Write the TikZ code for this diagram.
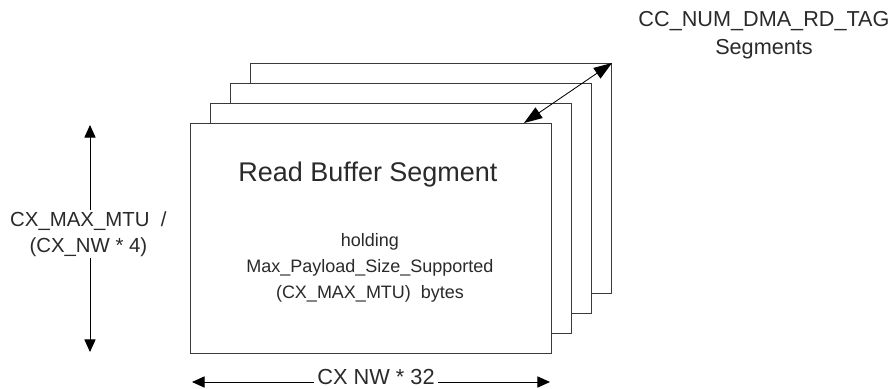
\documentclass[tikz,border=0pt]{standalone}
\usepackage{fontspec}
\setmainfont{Liberation Sans}
\usetikzlibrary{arrows.meta,positioning,calc}
\definecolor{edgegray}{HTML}{3A3A3A}
\definecolor{labeltext}{HTML}{2A2A2A}

\tikzset{
  segbox/.style={draw=edgegray, line width=0.7pt, fill=white, minimum width=9.025cm, minimum height=5.75cm, anchor=north west, inner sep=0pt},
  dimarrow/.style={{Triangle[length=9pt,width=8pt]}-{Triangle[length=9pt,width=8pt]}, line width=0.6pt, black},
  deptharrow/.style={{Triangle[length=13pt,width=9pt]}-{Triangle[length=13pt,width=9pt]}, line width=0.6pt, black},
  dimlabel/.style={fill=white, inner sep=1pt, text=labeltext, align=center}
}

\begin{document}
\begin{tikzpicture}
\useasboundingbox (0,0) rectangle (22.275,-9.725);

% stacked segments, back to front
\node[segbox] (seg4) at (6.25,-1.575) {};
\node[segbox] (seg3) at (5.75,-2.075) {};
\node[segbox] (seg2) at (5.25,-2.575) {};
\node[segbox] (seg1) at (4.75,-3.075) {};

\node[text=labeltext, font=\fontsize{19.2}{22}\selectfont] (title) at (9.2,-4.375) {Read Buffer Segment};
\node[dimlabel, font=\fontsize{12.8}{18.5}\selectfont] (body) at (9.25,-6.7) {holding\\Max\_Payload\_Size\_Supported\\(CX\_MAX\_MTU)\ \ bytes};

% depth of the stack
\coordinate (front) at ($(seg1.north east)+(-0.7,0)$);
\draw[deptharrow] (front) -- (seg4.north east);
\node[dimlabel, fill=none, font=\fontsize{15.4}{20}\selectfont] (count) at (19.1,-0.875) {CC\_NUM\_DMA\_RD\_TAG\\Segments};

% height
\coordinate (htop) at (2.25,-3.125);
\coordinate (hbot) at (2.25,-8.8);
\draw[dimarrow] (htop) -- (hbot);
\node[dimlabel, font=\fontsize{14.5}{18.5}\selectfont] (height) at (2.21,-5.85) {CX\_MAX\_MTU\ \ /\\(CX\_NW * 4)};

% width
\coordinate (wleft) at (4.8,-9.55);
\coordinate (wright) at (13.75,-9.55);
\draw[dimarrow] (wleft) -- (wright);
\node[dimlabel, inner xsep=2pt, inner ysep=0pt, font=\fontsize{15.5}{17}\selectfont] (width) at (9.4,-9.43) {CX NW * 32};
\end{tikzpicture}
\end{document}
